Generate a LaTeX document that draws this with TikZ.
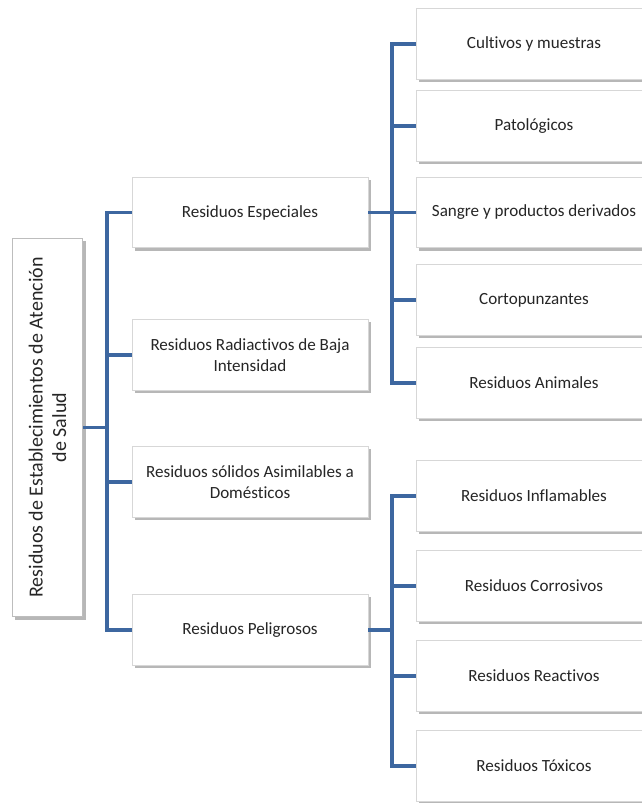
\documentclass[tikz,border=0pt]{standalone}
\usepackage{fontspec}
\setmainfont[Ligatures=NoCommon]{Carlito}
\usepackage{xcolor}
\usepackage{tikz}
\usetikzlibrary{
  positioning,
  shadows
}
\definecolor{linkblue}{RGB}{61,103,160}
\definecolor{boxline}{RGB}{215,215,215}

\begin{document}
\begin{tikzpicture}[
  x=0.75pt, y=-0.75pt,
  % --- node styles ---
  catbox/.style={
    draw=boxline, fill=white, line width=0.6pt,
    minimum width=177pt, minimum height=53pt,
    font=\fontsize{12.8}{15.5}\selectfont, align=center, text=black!85,
    drop shadow={shadow xshift=2pt, shadow yshift=-2pt, fill=black!40, opacity=0.7}
  },
  rootbox/.style={
    draw=boxline!70!gray, fill=white, line width=0.6pt, rotate=90,
    minimum width=284pt, minimum height=53pt,
    font=\fontsize{15}{17.5}\selectfont, align=center, text=black!85,
    drop shadow={shadow xshift=2pt, shadow yshift=-2pt, fill=black!40, opacity=0.7}
  },
  link/.style={draw=linkblue, line width=2.6pt, line join=miter},
]
\useasboundingbox (0,0) rectangle (642,803);

% Root
\node[rootbox] (root) at (47.5,427.5) {Residuos de Establecimientos de Atenci\'on\\de Salud};

% Level 1
\node[catbox] (esp) at (250,212.5) {Residuos Especiales};
\node[catbox] (rad) at (250,355) {Residuos Radiactivos de Baja\\Intensidad};
\node[catbox] (asi) at (250,482) {Residuos s\'olidos Asimilables a\\Dom\'esticos};
\node[catbox] (pel) at (250,630) {Residuos Peligrosos};

% Level 2: especiales
\node[catbox] (cul) at (534,44) {Cultivos y muestras};
\node[catbox] (pat) at (534,126) {Patol\'ogicos};
\node[catbox] (san) at (534,212.5) {Sangre y productos derivados};
\node[catbox] (cor) at (534,300) {Cortopunzantes};
\node[catbox] (ani) at (534,383) {Residuos Animales};

% Level 2: peligrosos
\node[catbox] (inf) at (534,496) {Residuos Inflamables};
\node[catbox] (crr) at (534,586) {Residuos Corrosivos};
\node[catbox] (rea) at (534,676) {Residuos Reactivos};
\node[catbox] (tox) at (534,766) {Residuos T\'oxicos};

% bus lines
\coordinate (busA) at (107,427.5);
\coordinate (busB) at (392,212.5);
\coordinate (busC) at (392,630);

% ─── Connectors ─────────────────────────────────────────────
\foreach \n in {esp,rad,asi,pel}
  \draw[link] (root.south) -- (busA) |- (\n.west);
\foreach \n in {cul,pat,san,cor,ani}
  \draw[link] (esp.east) -- (busB) |- (\n.west);
\foreach \n in {inf,crr,rea,tox}
  \draw[link] (pel.east) -- (busC) |- (\n.west);

\end{tikzpicture}
\end{document}
